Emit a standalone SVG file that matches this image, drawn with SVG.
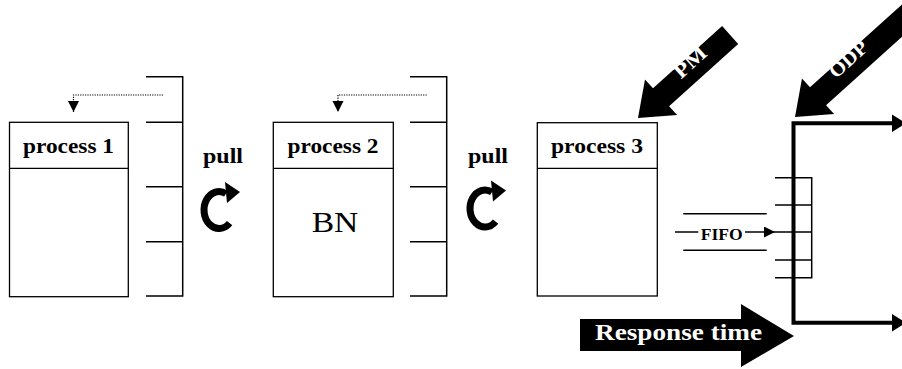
<svg xmlns="http://www.w3.org/2000/svg" width="902" height="369" viewBox="0 0 902 369">
<style>
.box{fill:#fff;stroke:#000;stroke-width:1.3}
.ln{stroke:#000;stroke-width:1.5;fill:none}
.dot{stroke:#000;stroke-width:1.2;fill:none;stroke-dasharray:1.2 1.2}
.thick{stroke:#000;stroke-width:4;fill:none}
.t{font-family:"Liberation Serif","Times New Roman",serif;font-weight:bold;fill:#000;text-anchor:middle}
.w{font-family:"Liberation Serif","Times New Roman",serif;font-weight:bold;fill:#fff;text-anchor:middle}
</style>
<defs>
<marker id="tri" markerWidth="12" markerHeight="12" refX="11" refY="5.5" orient="auto" markerUnits="userSpaceOnUse">
<path d="M0,0 L11,5.5 L0,11 Z" fill="#000"/>
</marker>
<g id="cycle">
<path d="M7,-16.4 A15 18.5 0 1 0 10.6,13.1" fill="none" stroke="#000" stroke-width="7"/>
<path d="M6,-28 L21,-18 L8,-7 Z" fill="#000"/>
</g>
</defs>
<rect width="902" height="369" fill="#fff"/>

<g id="process1">
<rect class="box" x="9.5" y="122.3" width="118.8" height="174.4"/>
<line class="ln" x1="9.5" y1="168.3" x2="128.3" y2="168.3" style="stroke-width:1.3"/>
<text class="t" x="68.5" y="152.5" font-size="22" textLength="91" lengthAdjust="spacingAndGlyphs">process 1</text>
</g>

<g id="buffer1">
<path class="ln" d="M146,76.7 H182.7 V296 H146 M146,122.3 H182.7 M146,186.7 H182.7 M146,241.7 H182.7"/>
</g>

<g id="pull1">
<text class="t" x="223" y="162.5" font-size="21.5" textLength="40" lengthAdjust="spacingAndGlyphs">pull</text>
<use href="#cycle" x="219" y="210"/>
</g>

<g id="process2">
<rect class="box" x="273.3" y="122.3" width="120" height="174.4"/>
<line class="ln" x1="273.3" y1="168.3" x2="393.3" y2="168.3" style="stroke-width:1.3"/>
<text class="t" x="333" y="152.5" font-size="22" textLength="91" lengthAdjust="spacingAndGlyphs">process 2</text>
<text x="335" y="231.7" font-family="'Liberation Serif','Times New Roman',serif" font-size="29" text-anchor="middle" textLength="46.7" lengthAdjust="spacingAndGlyphs">BN</text>
</g>

<g id="buffer2">
<path class="ln" d="M410,76.7 H446.7 V296 H410 M410,122.3 H446.7 M410,186.7 H446.7 M410,241.7 H446.7"/>
</g>

<g id="pull2">
<text class="t" x="488" y="162.5" font-size="21.5" textLength="40" lengthAdjust="spacingAndGlyphs">pull</text>
<use href="#cycle" x="485" y="208.5"/>
</g>

<g id="process3">
<rect class="box" x="537.3" y="122.7" width="120" height="173.3"/>
<line class="ln" x1="537.3" y1="168.3" x2="657.3" y2="168.3" style="stroke-width:1.3"/>
<text class="t" x="597" y="152.5" font-size="22" textLength="92" lengthAdjust="spacingAndGlyphs">process 3</text>
</g>

<g id="queue">
<path class="ln" d="M775,177.7 H811.7 V277.7 H775 M775,205 H811.7 M775,232 H811.7 M775,260 H811.7"/>
</g>

<g id="PM">
<polygon points="0,0 -31,-24 -31,-12 -124,-12 -124,12 -31,12 -31,24" fill="#000" transform="translate(638,118) rotate(138)"/>
<text class="w" transform="translate(690,62) rotate(-42)" font-size="20" dominant-baseline="central" textLength="37" lengthAdjust="spacingAndGlyphs">PM</text>
</g>

<g id="ODP">
<polygon points="0,0 -31,-24 -31,-12 -160,-12 -160,12 -31,12 -31,24" fill="#000" transform="translate(795,117) rotate(138)"/>
<text class="w" transform="translate(848,59) rotate(-42)" font-size="20" dominant-baseline="central" textLength="45" lengthAdjust="spacingAndGlyphs">ODP</text>
</g>

<g id="response">
<polygon points="580,319 741,319 741,304 794,336 741,367 741,351 580,351" fill="#000"/>
<text class="w" x="678.5" y="339.5" font-size="23.5" textLength="167" lengthAdjust="spacingAndGlyphs">Response time</text>
</g>

<g id="connectors">
<path class="dot" d="M163,95 H73.5 V112" marker-end="url(#tri)"/>
<path class="dot" d="M426.7,95 H338 V112" marker-end="url(#tri)"/>
<line class="ln" x1="683.3" y1="213.7" x2="766.7" y2="213.7"/>
<line class="ln" x1="683.3" y1="250.3" x2="766.7" y2="250.3"/>
<line class="ln" x1="675" y1="232" x2="698.3" y2="232"/>
<line class="ln" x1="745" y1="232" x2="775" y2="232" marker-end="url(#tri)"/>
<text class="t" x="721.7" y="240" font-size="17" textLength="42" lengthAdjust="spacingAndGlyphs">FIFO</text>
<path class="thick" d="M893,123.3 H793.5 V322.7 H893"/>
<polygon points="892,114.5 906,123.3 892,132" fill="#000"/>
<polygon points="892,314 906,322.7 892,331.5" fill="#000"/>
</g>
</svg>
